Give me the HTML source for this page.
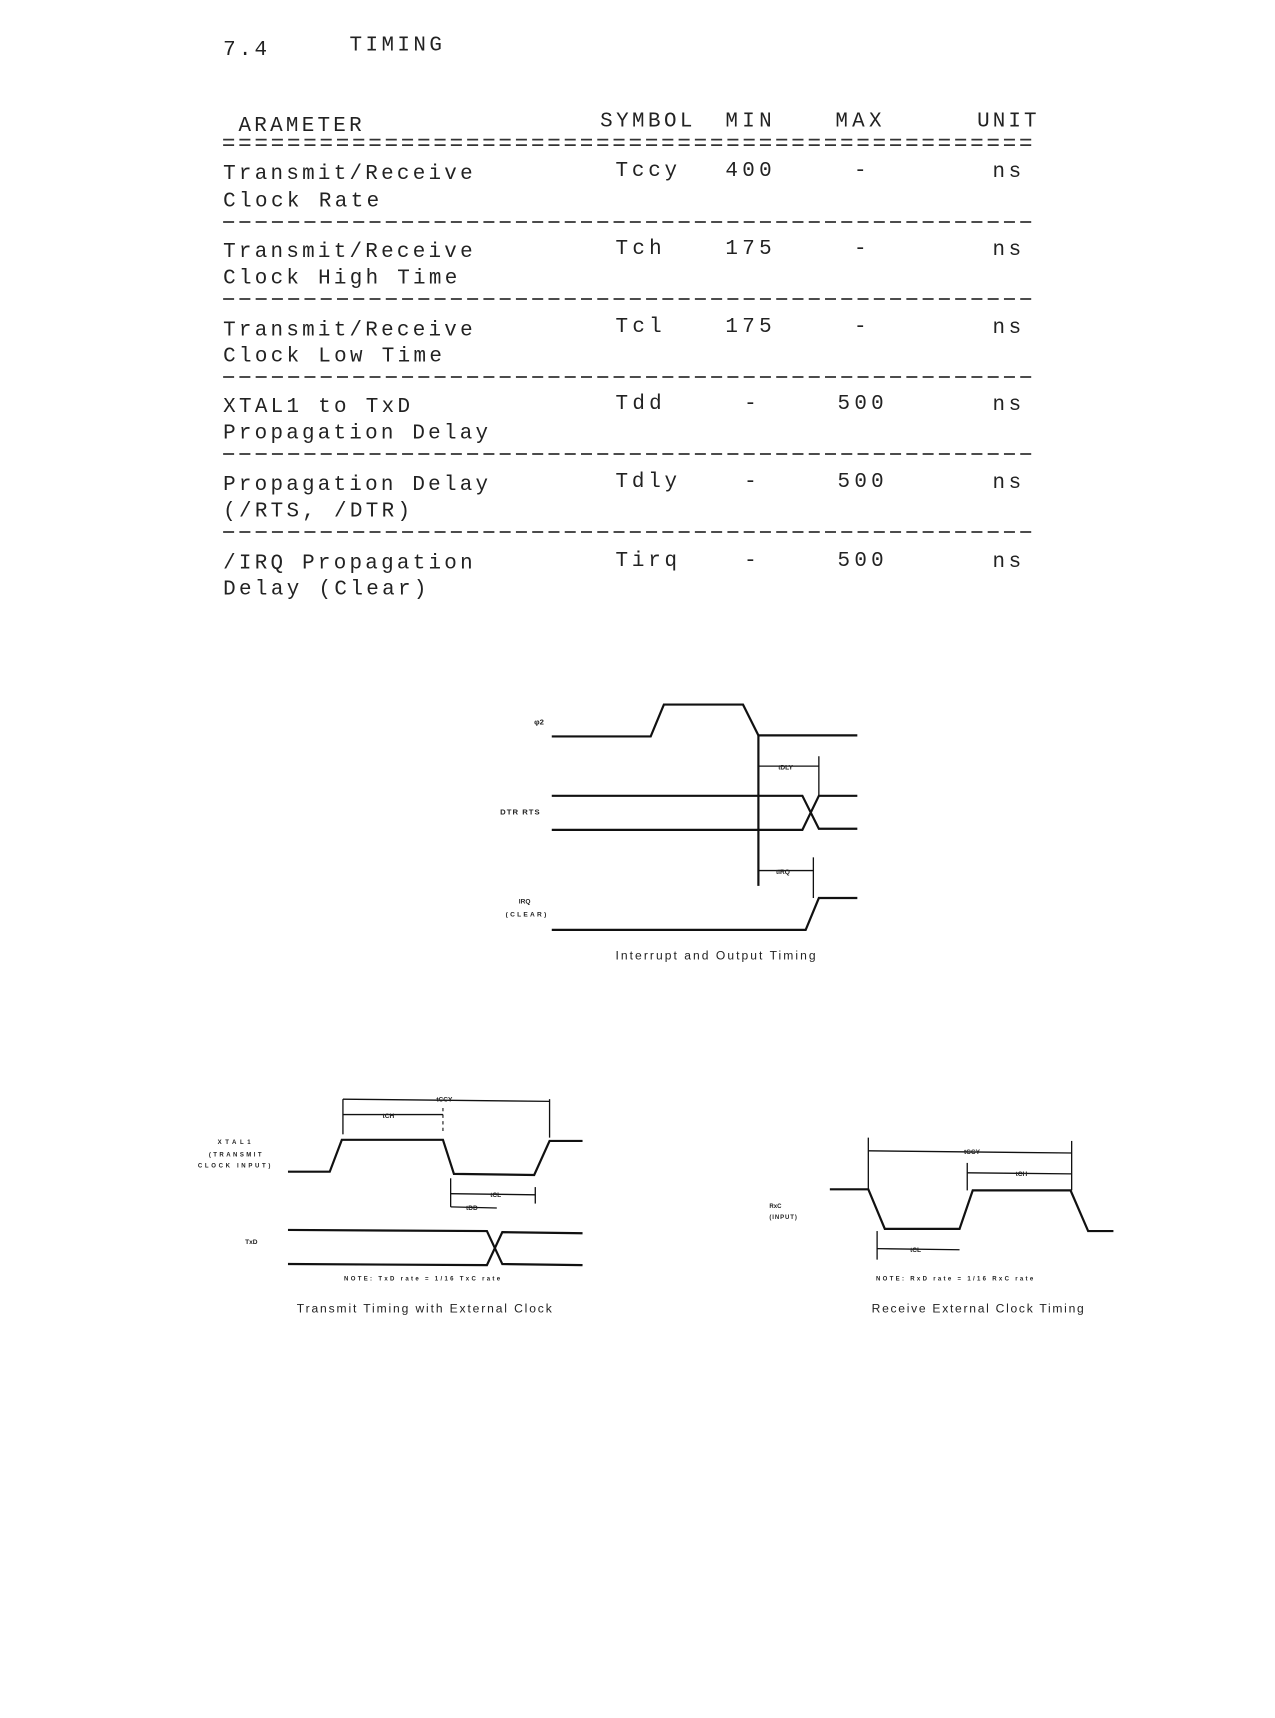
<!DOCTYPE html>
<html><head><meta charset="utf-8"><style>
html,body{margin:0;padding:0;background:#fff}
svg{display:block}
text{font-family:"Liberation Mono",monospace;fill:#222}
</style></head><body>
<svg width="1275" height="1718" viewBox="0 0 1160 1563" xmlns="http://www.w3.org/2000/svg">
<g font-size="19">
<text x="203" y="50" textLength="40">7.4</text>
<text x="318" y="46" textLength="84">TIMING</text>
<text x="217" y="119" textLength="112">ARAMETER</text>
<text x="546" y="115" textLength="84">SYMBOL</text>
<text x="660" y="115" textLength="42">MIN</text>
<text x="760" y="115" textLength="42">MAX</text>
<text x="889" y="115" textLength="54">UNIT</text>

<text x="203" y="163" textLength="227">Transmit/Receive</text>
<text x="203" y="188" textLength="142">Clock Rate</text>
<text x="560" y="160" textLength="56">Tccy</text>
<text x="660" y="160" textLength="42">400</text>
<text x="777" y="160">-</text>
<text x="903" y="161" textLength="26">ns</text>

<text x="203" y="234" textLength="227">Transmit/Receive</text>
<text x="203" y="258" textLength="213">Clock High Time</text>
<text x="560" y="231" textLength="42">Tch</text>
<text x="660" y="231" textLength="42">175</text>
<text x="777" y="231">-</text>
<text x="903" y="232" textLength="26">ns</text>

<text x="203" y="305" textLength="227">Transmit/Receive</text>
<text x="203" y="329" textLength="199">Clock Low Time</text>
<text x="560" y="302" textLength="42">Tcl</text>
<text x="660" y="302" textLength="42">175</text>
<text x="777" y="302">-</text>
<text x="903" y="303" textLength="26">ns</text>

<text x="203" y="375" textLength="170">XTAL1 to TxD</text>
<text x="203" y="399" textLength="241">Propagation Delay</text>
<text x="560" y="372" textLength="42">Tdd</text>
<text x="677" y="372">-</text>
<text x="762" y="372" textLength="42">500</text>
<text x="903" y="373" textLength="26">ns</text>

<text x="203" y="446" textLength="241">Propagation Delay</text>
<text x="203" y="470" textLength="170">(/RTS, /DTR)</text>
<text x="560" y="443" textLength="56">Tdly</text>
<text x="677" y="443">-</text>
<text x="762" y="443" textLength="42">500</text>
<text x="903" y="444" textLength="26">ns</text>

<text x="203" y="517" textLength="227">/IRQ Propagation</text>
<text x="203" y="541" textLength="185">Delay (Clear)</text>
<text x="560" y="515" textLength="56">Tirq</text>
<text x="677" y="515">-</text>
<text x="762" y="515" textLength="42">500</text>
<text x="903" y="516" textLength="26">ns</text>
</g>

<g stroke="#333" stroke-width="1.6" stroke-dasharray="10,4.8">
<line x1="203" y1="127" x2="943" y2="127"/>
<line x1="203" y1="132" x2="943" y2="132"/>
<line x1="203" y1="202" x2="943" y2="202"/>
<line x1="203" y1="272" x2="943" y2="272"/>
<line x1="203" y1="343" x2="943" y2="343"/>
<line x1="203" y1="413" x2="943" y2="413"/>
<line x1="203" y1="484" x2="943" y2="484"/>
</g>

<g fill="none" stroke="#111" stroke-width="2">
<polyline points="502,670 592,670 604,641 676,641 690,669 780,669"/>
<line x1="690" y1="669" x2="690" y2="806"/>
<line x1="690" y1="697" x2="745" y2="697" stroke-width="1.2"/>
<line x1="745" y1="688" x2="745" y2="725" stroke-width="1.2"/>
<polyline points="502,724 730,724 745,754 780,754"/>
<polyline points="502,755 730,755 745,724 780,724"/>
<line x1="690" y1="792" x2="740" y2="792" stroke-width="1.2"/>
<line x1="740" y1="780" x2="740" y2="817" stroke-width="1.2"/>
<polyline points="502,846 733,846 745,817 780,817"/>
<polyline points="262,1066 300,1066 311,1037 403,1037 413,1068 486,1069 500,1038 530,1038"/>
<line x1="312" y1="1000" x2="312" y2="1032" stroke-width="1.2"/>
<line x1="500" y1="1000" x2="500" y2="1035" stroke-width="1.2"/>
<line x1="312" y1="1000" x2="500" y2="1002" stroke-width="1.2"/>
<line x1="312" y1="1014" x2="403" y2="1014" stroke-width="1.2"/>
<line x1="403" y1="1008" x2="403" y2="1030" stroke-width="1" stroke-dasharray="3,3"/>
<line x1="410" y1="1072" x2="410" y2="1098" stroke-width="1.2"/>
<line x1="410" y1="1086" x2="487" y2="1087" stroke-width="1.2"/>
<line x1="487" y1="1080" x2="487" y2="1095" stroke-width="1.2"/>
<line x1="410" y1="1098" x2="452" y2="1099" stroke-width="1.2"/>
<polyline points="262,1119 443,1120 457,1150 530,1151"/>
<polyline points="262,1150 443,1151 457,1121 530,1122"/>
<polyline points="755,1082 790,1082 805,1118 873,1118 885,1083 974,1083 990,1120 1013,1120"/>
<line x1="790" y1="1035" x2="790" y2="1082" stroke-width="1.2"/>
<line x1="975" y1="1038" x2="975" y2="1083" stroke-width="1.2"/>
<line x1="790" y1="1047" x2="975" y2="1049" stroke-width="1.2"/>
<line x1="880" y1="1058" x2="880" y2="1083" stroke-width="1.2"/>
<line x1="880" y1="1067" x2="975" y2="1068" stroke-width="1.2"/>
<line x1="798" y1="1120" x2="798" y2="1146" stroke-width="1.2"/>
<line x1="798" y1="1136" x2="873" y2="1137" stroke-width="1.2"/>
</g>

<g font-family="Liberation Sans,sans-serif" font-weight="bold" fill="#222">
<text x="486" y="659" font-size="7" style="font-family:'Liberation Sans',sans-serif">φ2</text>
<text x="455" y="741" font-size="7" textLength="36" style="font-family:'Liberation Sans',sans-serif">DTR RTS</text>
<text x="708" y="700" font-size="6" style="font-family:'Liberation Sans',sans-serif">tDLY</text>
<text x="706" y="795" font-size="6" style="font-family:'Liberation Sans',sans-serif">tIRQ</text>
<text x="472" y="822" font-size="6" style="font-family:'Liberation Sans',sans-serif">IRQ</text>
<text x="460" y="834" font-size="6" textLength="37" style="font-family:'Liberation Sans',sans-serif">(CLEAR)</text>
<text x="560" y="873" font-size="11" font-weight="normal" textLength="182" style="font-family:'Liberation Sans',sans-serif">Interrupt and Output Timing</text>
<text x="397" y="1002" font-size="6" style="font-family:'Liberation Sans',sans-serif">tCCY</text>
<text x="348" y="1017" font-size="6" style="font-family:'Liberation Sans',sans-serif">tCH</text>
<text x="446" y="1089" font-size="6" style="font-family:'Liberation Sans',sans-serif">tCL</text>
<text x="424" y="1101" font-size="6" style="font-family:'Liberation Sans',sans-serif">tDD</text>
<text x="198" y="1041" font-size="5.5" textLength="30" style="font-family:'Liberation Sans',sans-serif">XTAL1</text>
<text x="190" y="1052" font-size="5.5" textLength="48" style="font-family:'Liberation Sans',sans-serif">(TRANSMIT</text>
<text x="180" y="1062" font-size="5.5" textLength="66" style="font-family:'Liberation Sans',sans-serif">CLOCK INPUT)</text>
<text x="223" y="1132" font-size="6" style="font-family:'Liberation Sans',sans-serif">TxD</text>
<text x="313" y="1165" font-size="5.5" textLength="142" style="font-family:'Liberation Sans',sans-serif">NOTE:  TxD rate = 1/16 TxC rate</text>
<text x="270" y="1194" font-size="11" font-weight="normal" textLength="232" style="font-family:'Liberation Sans',sans-serif">Transmit Timing with External Clock</text>
<text x="877" y="1050" font-size="6" style="font-family:'Liberation Sans',sans-serif">tCCY</text>
<text x="924" y="1070" font-size="6" style="font-family:'Liberation Sans',sans-serif">tCH</text>
<text x="828" y="1139" font-size="6" style="font-family:'Liberation Sans',sans-serif">tCL</text>
<text x="700" y="1099" font-size="5.5" style="font-family:'Liberation Sans',sans-serif">RxC</text>
<text x="700" y="1109" font-size="5.5" textLength="25" style="font-family:'Liberation Sans',sans-serif">(INPUT)</text>
<text x="797" y="1165" font-size="5.5" textLength="143" style="font-family:'Liberation Sans',sans-serif">NOTE:  RxD rate = 1/16 RxC rate</text>
<text x="793" y="1194" font-size="11" font-weight="normal" textLength="193" style="font-family:'Liberation Sans',sans-serif">Receive External Clock Timing</text>
</g>
</svg>
</body></html>
